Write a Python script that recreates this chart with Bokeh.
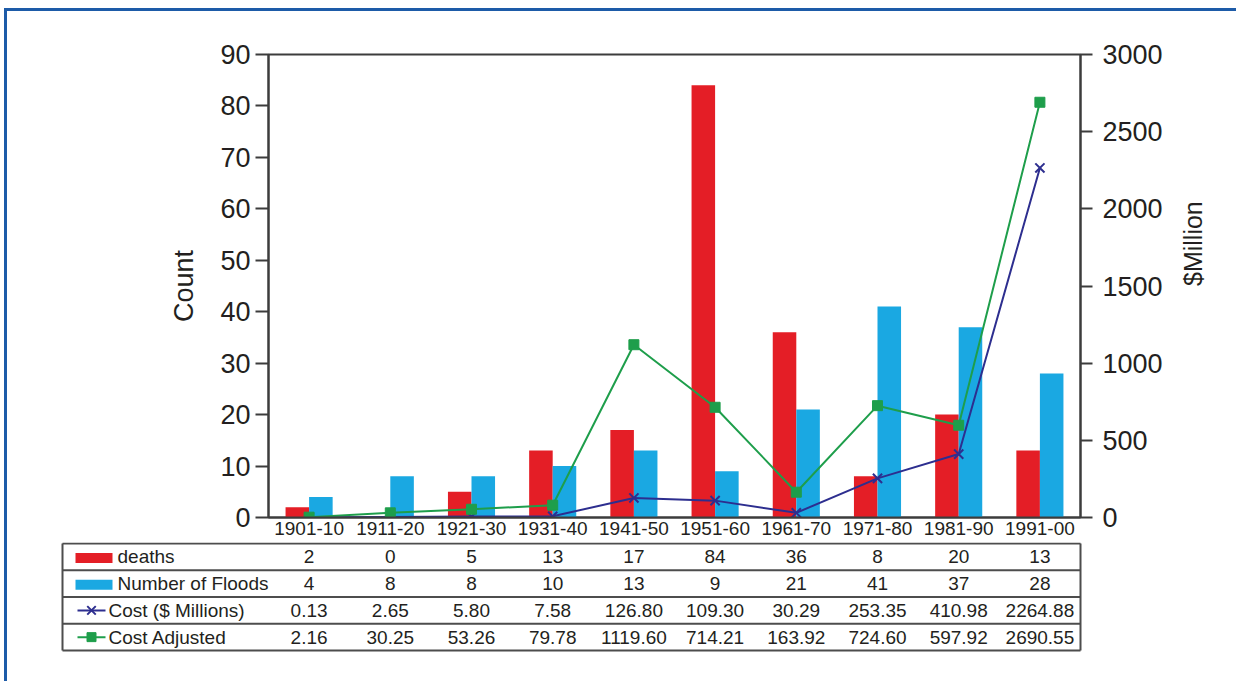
import math
from bokeh.plotting import figure
from bokeh.models import Range1d, FactorRange, LinearAxis, FixedTicker, ColumnDataSource
from bokeh.transform import dodge
from bokeh.embed import file_html
from bokeh.resources import INLINE
from bokeh.core.properties import value

# ---------------- data ----------------
decades = ["1901-10", "1911-20", "1921-30", "1931-40", "1941-50",
           "1951-60", "1961-70", "1971-80", "1981-90", "1991-00"]
deaths = [2, 0, 5, 13, 17, 84, 36, 8, 20, 13]
floods = [4, 8, 8, 10, 13, 9, 21, 41, 37, 28]
cost_millions = [0.13, 2.65, 5.80, 7.58, 126.80, 109.30, 30.29, 253.35, 410.98, 2264.88]
cost_adjusted = [2.16, 30.25, 53.26, 79.78, 1119.60, 714.21, 163.92, 724.60, 597.92, 2690.55]
series_names = ["deaths", "Number of Floods", "Cost ($ Millions)", "Cost Adjusted"]
count_ticks = [0, 10, 20, 30, 40, 50, 60, 70, 80, 90]
million_ticks = [0, 500, 1000, 1500, 2000, 2500, 3000]
left_title = "Count"
right_title = "$Million"

# ---------------- style ----------------
RED = "#e41e26"
BLUE = "#1aa8e2"
NAVY = "#2d2e8f"
GREEN = "#1e9e4b"
AXIS = "#3c3c3c"
TEXT = "#231f20"
FRAME = "#1d5ba8"
FONT = "Liberation Sans"
SMALL = "19px"

OX, OY = 7, 11            # content offset (margin + border)
PAGE_W, PAGE_H = 1239, 684
PL, PR, PT, PB = 268, 1080, 54, 517   # plot frame on the page
TABLE_TOP = 545
W = PAGE_W - OX
H1 = TABLE_TOP - OY
H2 = PAGE_H - TABLE_TOP

src = ColumnDataSource(dict(decade=decades, deaths=deaths, floods=floods,
                            cost=cost_millions, adj=cost_adjusted))

p = figure(x_range=FactorRange(*decades), y_range=Range1d(0, 90),
           width=W, height=H1,
           min_border_left=PL - OX, min_border_right=W - (PR - OX),
           min_border_top=PT - OY, min_border_bottom=TABLE_TOP - PB,
           toolbar_location=None, output_backend="svg")
p.extra_y_ranges = {"cost": Range1d(0, 3000)}
p.grid.visible = False
p.outline_line_color = AXIS
p.outline_line_width = 2

bw = 0.29
p.vbar(x=dodge("decade", -bw / 2, range=p.x_range), top="deaths", width=bw,
       source=src, fill_color=RED, line_color=None)
p.vbar(x=dodge("decade", bw / 2, range=p.x_range), top="floods", width=bw,
       source=src, fill_color=BLUE, line_color=None)
p.line(x="decade", y="cost", y_range_name="cost", source=src,
       line_color=NAVY, line_width=2)
p.scatter(x="decade", y="cost", y_range_name="cost", source=src, marker="x",
          size=13, line_color=NAVY, line_width=2)
p.line(x="decade", y="adj", y_range_name="cost", source=src,
       line_color=GREEN, line_width=2)
p.scatter(x="decade", y="adj", y_range_name="cost", source=src, marker="square",
          size=10, fill_color=GREEN, line_color=GREEN)

right = LinearAxis(y_range_name="cost")
p.add_layout(right, "right")

p.yaxis[0].ticker = FixedTicker(ticks=count_ticks)
p.yaxis[0].axis_label = left_title
right.ticker = FixedTicker(ticks=million_ticks)

for ax in (p.yaxis[0], right):
    ax.axis_line_color = AXIS
    ax.axis_line_width = 2
    ax.major_tick_line_color = AXIS
    ax.major_tick_line_width = 2
    ax.major_tick_in = 0
    ax.minor_tick_line_color = None
    ax.major_label_text_font = FONT
    ax.major_label_text_font_size = "27px"
    ax.major_label_text_color = TEXT
    ax.axis_label_text_font = FONT
    ax.axis_label_text_font_style = "normal"
    ax.axis_label_text_color = TEXT
p.yaxis[0].major_tick_out = 13
p.yaxis[0].major_label_standoff = 5
p.yaxis[0].axis_label_text_font_size = "27px"
p.yaxis[0].axis_label_standoff = 18
right.major_tick_out = 12
right.major_label_standoff = 10

# right-axis title (reads bottom-to-top): carried by a tick-less companion axis
title_axis = LinearAxis(y_range_name="cost", ticker=FixedTicker(ticks=[]),
                        axis_label=right_title, bounds=(0, 2500))
title_axis.axis_line_color = None
title_axis.major_tick_line_color = None
title_axis.minor_tick_line_color = None
title_axis.major_tick_out = 0
title_axis.major_label_standoff = 0
title_axis.axis_label_standoff = 27
title_axis.axis_label_orientation = math.pi / 2
title_axis.axis_label_text_font = FONT
title_axis.axis_label_text_font_style = "normal"
title_axis.axis_label_text_font_size = "25px"
title_axis.axis_label_text_color = TEXT
p.add_layout(title_axis, "right")

xa = p.xaxis[0]
xa.axis_line_color = AXIS
xa.axis_line_width = 2
xa.major_tick_line_color = None
xa.minor_tick_line_color = None
xa.major_tick_out = 0
xa.major_tick_in = 0
xa.major_label_standoff = 4
xa.major_label_text_font = FONT
xa.major_label_text_font_size = SMALL
xa.major_label_text_color = TEXT

p.margin = (8, 0, 0, 4)
p.styles = {"border-left": "3px solid " + FRAME, "border-top": "3px solid " + FRAME}

# ---------------- data table (separate root, page-pixel coordinates) ----------------
t = figure(width=W, height=H2, x_range=Range1d(OX, PAGE_W), y_range=Range1d(PAGE_H, TABLE_TOP),
           x_axis_type=None, y_axis_type=None, min_border=0,
           toolbar_location=None, output_backend="svg")
t.outline_line_color = None
t.grid.visible = False
t.margin = (0, 0, 0, 4)
t.styles = {"border-left": "3px solid " + FRAME}

TL = 62
ROW_H = 26.75
top_line = TABLE_TOP + 1
col_w = (PR - PL) / len(decades)
col_x = [PL + (i + 0.5) * col_w for i in range(len(decades))]
row_lines = [top_line + r * ROW_H for r in range(len(series_names) + 1)]
row_mid = [top_line + (r + 0.5) * ROW_H for r in range(len(series_names))]

t.segment(x0=[TL] * len(row_lines), x1=[PR] * len(row_lines), y0=row_lines, y1=row_lines,
          line_color="#4d4d4d", line_width=2)
t.segment(x0=[TL, PR], x1=[TL, PR], y0=[row_lines[0]] * 2, y1=[row_lines[-1]] * 2,
          line_color="#4d4d4d", line_width=2)

rows = [
    [str(v) for v in deaths],
    [str(v) for v in floods],
    ["%.2f" % v for v in cost_millions],
    ["%.2f" % v for v in cost_adjusted],
]
tx, ty, tt = [], [], []
for r, vals in enumerate(rows):
    for i, s in enumerate(vals):
        tx.append(col_x[i]); ty.append(row_mid[r]); tt.append(s)
t.text(x=tx, y=ty, text=tt, text_align="center", text_baseline="middle",
       text_font=value(FONT), text_font_size=SMALL, text_color=TEXT)

label_x = [117, 117, 108, 108]
t.text(x=label_x, y=row_mid, text=series_names, text_align="left", text_baseline="middle",
       text_font=value(FONT), text_font_size=SMALL, text_color=TEXT)

# legend keys
t.quad(left=[75, 75], right=[112, 112],
       top=[row_mid[0] - 4, row_mid[1] - 4], bottom=[row_mid[0] + 6, row_mid[1] + 6],
       fill_color=[RED, BLUE], line_color=None)
t.segment(x0=[77], x1=[105], y0=[row_mid[2]], y1=[row_mid[2]], line_color=NAVY, line_width=2)
t.scatter(x=[91], y=[row_mid[2]], marker="x", size=12, line_color=NAVY, line_width=2)
t.segment(x0=[77], x1=[105], y0=[row_mid[3]], y1=[row_mid[3]], line_color=GREEN, line_width=2)
t.scatter(x=[91], y=[row_mid[3]], marker="square", size=9, fill_color=GREEN, line_color=GREEN)

open("out.html", "w").write(file_html([p, t], INLINE))
